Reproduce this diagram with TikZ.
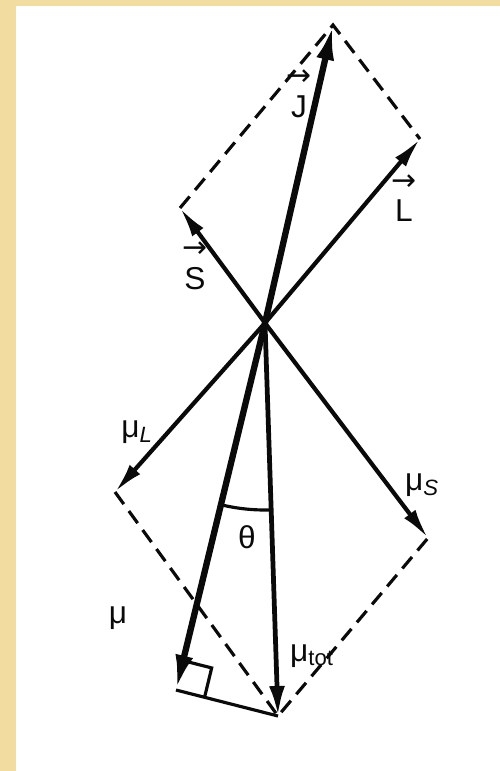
\documentclass[tikz,border=0pt]{standalone}
\usepackage{fontspec}
\setmainfont{Liberation Sans}
\newfontfamily\arrowfont{DejaVu Sans}
\usepackage{tikz}
\usetikzlibrary{arrows.meta, calc}
\usepackage{xcolor}
\definecolor{slbeige}{HTML}{F2DCA0}
\definecolor{slink}{HTML}{0A0A0A}
\definecolor{slwhite}{HTML}{FFFFFF}

\begin{document}
\begin{tikzpicture}[x=0.2mm, y=-0.2mm,
    vec/.style={draw=slink, line width=2.4pt, -{Latex[length=6mm, width=2.8mm]}},
    midvec/.style={draw=slink, line width=2.7pt, -{Latex[length=6mm, width=3.2mm]}},
    bigvec/.style={draw=slink, line width=3.6pt, -{Latex[length=7mm, width=3.6mm]}},
    side/.style={draw=slink, line width=1.8pt, dash pattern=on 3mm off 1.7mm},
    perp/.style={draw=slink, line width=1.8pt},
    lbl/.style={text=slink, font=\fontsize{18}{20}\selectfont, inner sep=0pt},
    vlbl/.style={lbl, align=center, font=\fontsize{18}{18}\selectfont}]
    \fill[slwhite] (0,0) rectangle (500,771);
    \fill[slbeige] (0,0) rectangle (16,771);
    \fill[slbeige] (0,0) rectangle (500,6);
    \useasboundingbox (0,0) rectangle (500,771);
    \coordinate (O) at (265,323);
    \coordinate (A) at (333,25);
    \coordinate (Lc) at (420,139);
    \coordinate (Sc) at (180,208);
    \coordinate (ML) at (115,492);
    \coordinate (MS) at (428,538);
    \coordinate (B) at (278,716);
    \coordinate (F) at (176,690);
    \draw[side] (Sc) -- (A) -- (Lc);
    \draw[side] (ML) -- (B) -- (MS);
    \draw[vec] (O) -- (Sc);
    \draw[vec] (O) -- (Lc);
    \draw[bigvec] (O) -- (A);
    \draw[vec] (O) -- (ML);
    \draw[vec] (O) -- (MS);
    \draw[bigvec] (O) -- (F);
    \draw[midvec] (O) -- (B);
    \draw[perp] (F) -- (B);
    \coordinate (Fa) at ($(F)!0.08!(O)$);
    \coordinate (Fb) at ($(F)!0.28!(B)$);
    \draw[perp] (Fa) -- ($(Fa)+(Fb)-(F)$) -- (Fb);
    \draw[perp] (O) ++(103.7:187) arc[start angle=103.7, end angle=88.1, radius=187];
    \node[vlbl] (jl) at (299,94) {{\arrowfont\fontsize{17}{10}\selectfont →}\\J};
    \node[vlbl] (ll) at (404,198) {{\arrowfont\fontsize{17}{10}\selectfont →}\\L};
    \node[vlbl] (sl) at (195,266) {{\arrowfont\fontsize{17}{10}\selectfont →}\\S};
    \node[lbl] (mll) at (137,432) {μ\textsubscript{\textit{L}}};
    \node[lbl] (msl) at (422,485) {μ\textsubscript{\textit{S}}};
    \node[lbl] (th) at (247,537) {θ};
    \node[lbl] (mul) at (118,618) {μ};
    \node[lbl] (mtl) at (312,656) {μ\textsubscript{tot}};
  \end{tikzpicture}
\end{document}
